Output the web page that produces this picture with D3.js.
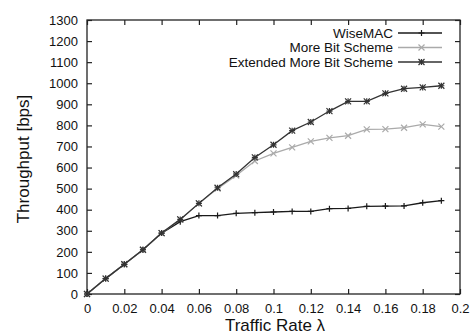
<!DOCTYPE html>
<html>
<head>
<meta charset="utf-8">
<script src="https://cdn.jsdelivr.net/npm/d3@7"></script>
<style>
  body { margin: 0; background: #fff; }
  text { font-family: "Liberation Sans", Arial, sans-serif; }
</style>
</head>
<body>
<div id="chart"></div>
<script>
// data
var rates = [0, 0.01, 0.02, 0.03, 0.04, 0.05, 0.06, 0.07, 0.08, 0.09, 0.1,
  0.11, 0.12, 0.13, 0.14, 0.15, 0.16, 0.17, 0.18, 0.19];
var wiseMac = [0, 73, 141, 210, 289, 343, 372, 372, 383, 386, 389,
  392, 392, 405, 406, 416, 417, 418, 433, 443];
var moreBit = [0, 73, 141, 210, 289, 354, 430, 500, 562, 631, 667,
  696, 724, 741, 751, 781, 782, 789, 805, 794];
var extMoreBit = [0, 73, 141, 210, 289, 354, 430, 504, 569, 648, 708,
  775, 816, 868, 914, 914, 952, 974, 980, 988];
var xTicks = [0, 0.02, 0.04, 0.06, 0.08, 0.1, 0.12, 0.14, 0.16, 0.18, 0.2];
var yTicks = [0, 100, 200, 300, 400, 500, 600, 700, 800, 900, 1000, 1100, 1200, 1300];

var series = [
  { name: "WiseMAC", values: wiseMac, color: "#1a1a1a", mark: "plus" },
  { name: "More Bit Scheme", values: moreBit, color: "#aaaaaa", mark: "cross" },
  { name: "Extended More Bit Scheme", values: extMoreBit, color: "#333333", mark: "star" }
];

const W = 473, H = 336;
const margin = { top: 20, right: 13, bottom: 42, left: 87 },
  width = W - margin.left - margin.right,
  height = H - margin.top - margin.bottom;

const svg = d3.select("#chart").append("svg")
  .attr("width", W).attr("height", H);
const g = svg.append("g")
  .attr("transform", `translate(${margin.left},${margin.top})`);

const x = d3.scaleLinear().domain([0, 0.2]).range([0, width]);
const y = d3.scaleLinear().domain([0, 1300]).range([height, 0]);

// axes, gnuplot style: inward ticks mirrored on all sides
g.append("g")
  .attr("transform", `translate(0,${height})`)
  .call(d3.axisBottom(x).tickValues(xTicks).tickSizeInner(-5).tickSizeOuter(0).tickPadding(10)
    .tickFormat(d => d3.format("~g")(d)));
g.append("g")
  .call(d3.axisTop(x).tickValues(xTicks).tickSizeInner(-5).tickSizeOuter(0).tickFormat(""));
g.append("g")
  .call(d3.axisLeft(y).tickValues(yTicks).tickSizeInner(-5).tickSizeOuter(0).tickPadding(9)
    .tickFormat(d3.format("d")));
g.append("g")
  .attr("transform", `translate(${width},0)`)
  .call(d3.axisRight(y).tickValues(yTicks).tickSizeInner(-5).tickSizeOuter(0).tickFormat(""));

g.selectAll(".domain").remove();
g.selectAll(".tick line").attr("stroke", "#222").attr("stroke-width", 1.2);
g.selectAll(".tick text").attr("font-size", "13px").attr("fill", "#111")
  .style("font-family", "Liberation Sans, Arial, sans-serif");

g.append("rect")
  .attr("width", width).attr("height", height)
  .attr("fill", "none").attr("stroke", "#222").attr("stroke-width", 1.3);

function drawMark(sel, type, color) {
  const s = 3;
  if (type === "plus" || type === "star") {
    sel.append("path").attr("d", `M${-s},0H${s}M0,${-s}V${s}`)
      .attr("stroke", color).attr("stroke-width", 1.2);
  }
  if (type === "cross" || type === "star") {
    sel.append("path").attr("d", `M${-s},${-s}L${s},${s}M${-s},${s}L${s},${-s}`)
      .attr("stroke", color).attr("stroke-width", 1.2);
  }
}

const line = d3.line()
  .x((d, i) => x(rates[i]))
  .y(d => y(d));

series.forEach(function (s) {
  g.append("path")
    .datum(s.values)
    .attr("fill", "none")
    .attr("stroke", s.color)
    .attr("stroke-width", 1.3)
    .attr("d", line);
  s.values.forEach(function (v, i) {
    const m = g.append("g").attr("transform", `translate(${x(rates[i])},${y(v)})`);
    drawMark(m, s.mark, s.color);
  });
});

// legend
const legend = g.append("g");
series.forEach(function (s, i) {
  const ly = 13 + i * 14.5;
  legend.append("text")
    .attr("x", 306).attr("y", ly)
    .attr("dy", "0.35em")
    .attr("text-anchor", "end")
    .attr("font-size", "13.5px")
    .attr("fill", "#111")
    .text(s.name);
  legend.append("line")
    .attr("x1", 311).attr("x2", 355)
    .attr("y1", ly).attr("y2", ly)
    .attr("stroke", s.color).attr("stroke-width", 1.3);
  const m = legend.append("g").attr("transform", `translate(334.5,${ly})`);
  drawMark(m, s.mark, s.color);
});

// axis titles
svg.append("text")
  .attr("x", 275)
  .attr("y", H - 5)
  .attr("text-anchor", "middle")
  .attr("font-size", "17px")
  .attr("fill", "#111")
  .text("Traffic Rate λ");

svg.append("text")
  .attr("transform", `translate(29,${margin.top + height / 2 + 2}) rotate(-90)`)
  .attr("text-anchor", "middle")
  .attr("font-size", "17px")
  .attr("fill", "#111")
  .text("Throughput [bps]");
</script>
</body>
</html>
